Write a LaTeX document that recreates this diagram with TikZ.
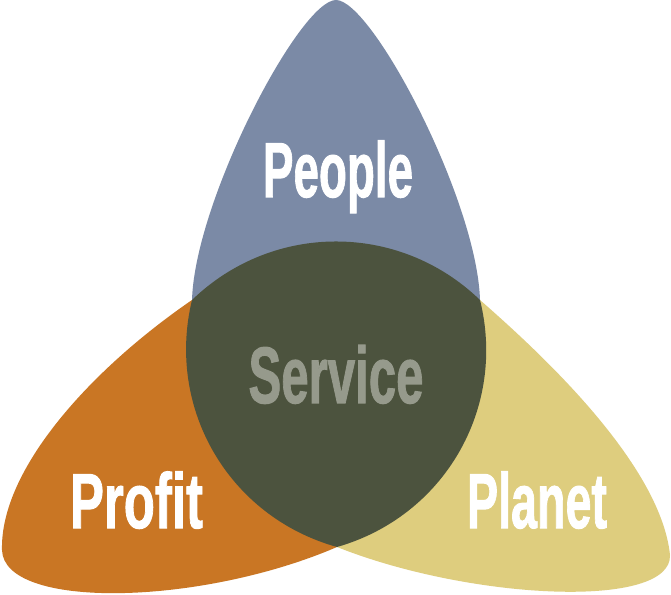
\documentclass[tikz,border=0pt]{standalone}
\usepackage{fontspec}
\usepackage{graphicx}
\newfontfamily\condfont[FakeBold=1.4]{Liberation Sans}
\definecolor{peopleblue}{RGB}{123,138,166}
\definecolor{profitorange}{RGB}{201,118,36}
\definecolor{planetyellow}{RGB}{222,205,126}
\definecolor{servicegreen}{RGB}{76,83,62}
\definecolor{servicegray}{RGB}{150,154,140}
\newcommand\fitword[3]{\resizebox{#1}{\height}{\fontsize{#2}{#2}\condfont\bfseries #3}}
\tikzset{
  petal/.style={draw=none},
  lbl/.style={anchor=base, inner sep=0pt, text=white},
}
\begin{document}
\begin{tikzpicture}[x=1pt,y=1pt]
\useasboundingbox (0,0) rectangle (671,594);
\clip (0,0) rectangle (671,594);
\fill[white] (0,0) rectangle (671,594);
% junction points
\coordinate (A) at (192,294);
\coordinate (B) at (480,294);
\coordinate (C) at (337,47);
\coordinate (T) at (336,594);
\coordinate (L) at (2,44);
\coordinate (R) at (670,39);
% petals
\fill[peopleblue] (A) .. controls (195,394) and (300,594) .. (T)
  .. controls (372,594) and (477,394) .. (B) -- cycle;
\fill[profitorange] (A) .. controls (90,224) and (0,124) .. (L)
  .. controls (4,-16) and (200,-12) .. (C) -- cycle;
\fill[planetyellow] (B) .. controls (530,250) and (660,134) .. (R)
  .. controls (672,-16) and (470,-6) .. (C) -- cycle;
% centre
\fill[servicegreen] (A) to[bend left=44] (B) to[bend left=44] (C) to[bend left=44] (A) -- cycle;
% labels
\node[lbl] (people) at (338,397) {\fitword{150pt}{78pt}{People}};
\node[lbl, text=servicegray] (service) at (336,191) {\fitword{175pt}{80pt}{Service}};
\node[lbl] (profit) at (136.5,66) {\fitword{133pt}{78pt}{Profit}};
\node[lbl] (planet) at (537,66) {\fitword{140pt}{78pt}{Planet}};
\end{tikzpicture}
\end{document}
